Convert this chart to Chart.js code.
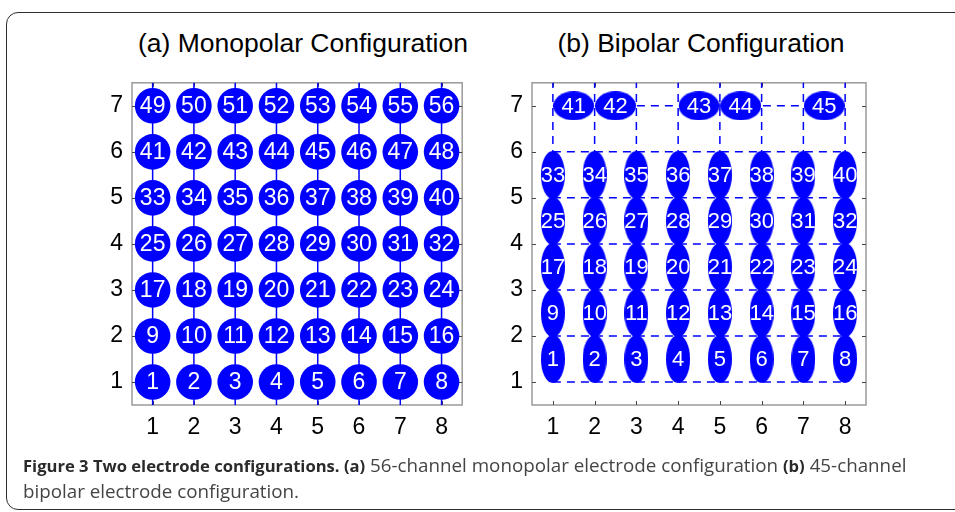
<!DOCTYPE html>
<html>
<head>
<meta charset="utf-8">
<script src="https://cdn.jsdelivr.net/npm/chart.js@4/dist/chart.umd.min.js"></script>
<style>
  body { margin: 0; background: #fff; width: 955px; height: 512px; overflow: hidden; position: relative; font-family: "Liberation Sans", Arial, sans-serif; }
  #frame { position: absolute; left: 6px; top: 12px; width: 1000px; height: 496px; border: 1.5px solid #2e2e2e; border-radius: 12px; }
  .title { position: absolute; top: 28px; width: 400px; font-size: 26.5px; line-height: 30px; text-align: center; color: #000; }
  .box { position: absolute; top: 60px; width: 400px; height: 400px; }
  #caption { position: absolute; left: 23px; top: 453px; width: 930px; font-family: "Open Sans", sans-serif; font-size: 18.8px; line-height: 24.5px; color: #444; white-space: nowrap; }
  #caption b { color: #2a2a2a; font-size: 16.6px; }
</style>
</head>
<body>
<div id="frame"></div>
<div class="title" style="left:103px">(a) Monopolar Configuration</div>
<div class="title" style="left:501px">(b) Bipolar Configuration</div>
<div class="box" style="left:80px"><canvas id="mono" width="400" height="400"></canvas></div>
<div class="box" style="left:480px"><canvas id="bip" width="400" height="400"></canvas></div>
<div id="caption"><b>Figure 3 Two electrode configurations. (a)</b> 56-channel monopolar electrode configuration <b>(b)</b> 45-channel<br>bipolar electrode configuration.</div>

<script>
// axis ticks
const xTicks = [1, 2, 3, 4, 5, 6, 7, 8];
const yTicks = [1, 2, 3, 4, 5, 6, 7];

// (a) monopolar: channel numbers, one row per y value (bottom to top)
const monoCols = [1, 2, 3, 4, 5, 6, 7, 8];
const monoRowY = [1, 2, 3, 4, 5, 6, 7];
const monoChannels = [
    [1, 2, 3, 4, 5, 6, 7, 8],
    [9, 10, 11, 12, 13, 14, 15, 16],
    [17, 18, 19, 20, 21, 22, 23, 24],
    [25, 26, 27, 28, 29, 30, 31, 32],
    [33, 34, 35, 36, 37, 38, 39, 40],
    [41, 42, 43, 44, 45, 46, 47, 48],
    [49, 50, 51, 52, 53, 54, 55, 56]
];

// (b) bipolar: vertical pairs between rows
const bipCols = [1, 2, 3, 4, 5, 6, 7, 8];
const bipRowY = [1.5, 2.5, 3.5, 4.5, 5.5];
const bipChannels = [
    [1, 2, 3, 4, 5, 6, 7, 8],
    [9, 10, 11, 12, 13, 14, 15, 16],
    [17, 18, 19, 20, 21, 22, 23, 24],
    [25, 26, 27, 28, 29, 30, 31, 32],
    [33, 34, 35, 36, 37, 38, 39, 40]
];
// (b) bipolar: horizontal pairs on the top row
const bipTopX = [1.5, 2.5, 4.5, 5.5, 7.5];
const bipTopY = 7;
const bipTopChannels = [41, 42, 43, 44, 45];

// (b) dashed wiring lines
const bipHLineY = [1, 2, 3, 4, 5, 6, 7];
const bipHLineX = [1, 8];
const bipVLineX = [1, 2, 3, 4, 5, 6, 7, 8];
const bipVLineY = [1, 7.5];

const BLUE = '#0000ff';

function ellipseImage(w, h) {
    const c = document.createElement('canvas');
    c.width = w;
    c.height = h;
    const g = c.getContext('2d');
    g.fillStyle = BLUE;
    g.beginPath();
    g.ellipse(w / 2, h / 2, w / 2, h / 2, 0, 0, Math.PI * 2);
    g.fill();
    return c;
}

const boxPlugin = {
    id: 'box',
    beforeDatasetsDraw(chart) {
        const a = chart.chartArea;
        const ctx = chart.ctx;
        ctx.save();
        ctx.strokeStyle = '#9a9a9a';
        ctx.lineWidth = 1.5;
        ctx.strokeRect(a.left, a.top, a.right - a.left, a.bottom - a.top);
        ctx.strokeStyle = '#444';
        ctx.lineWidth = 1;
        ctx.beginPath();
        chart.scales.x.ticks.forEach(t => {
            const px = Math.round(chart.scales.x.getPixelForValue(t.value)) + 0.5;
            ctx.moveTo(px, a.bottom); ctx.lineTo(px, a.bottom - 4);
            ctx.moveTo(px, a.top); ctx.lineTo(px, a.top + 4);
        });
        chart.scales.y.ticks.forEach(t => {
            const py = Math.round(chart.scales.y.getPixelForValue(t.value)) + 0.5;
            ctx.moveTo(a.left, py); ctx.lineTo(a.left + 4, py);
            ctx.moveTo(a.right, py); ctx.lineTo(a.right - 4, py);
        });
        ctx.stroke();
        ctx.restore();
    }
};

const labelPlugin = {
    id: 'pointLabels',
    afterDatasetsDraw(chart, args, opts) {
        const ctx = chart.ctx;
        ctx.save();
        ctx.fillStyle = '#fff';
        ctx.font = opts.size + 'px "Liberation Sans", Arial, sans-serif';
        ctx.textAlign = 'center';
        ctx.textBaseline = 'middle';
        chart.data.datasets.forEach((ds, i) => {
            if (!ds.labels) return;
            chart.getDatasetMeta(i).data.forEach((pt, j) => {
                ctx.fillText(String(ds.labels[j]), pt.x, pt.y + 1);
            });
        });
        ctx.restore();
    }
};

function baseOptions(padRight, labelSize) {
    return {
        responsive: false,
        animation: false,
        devicePixelRatio: 1,
        layout: { padding: { left: 0, right: padRight, top: 14, bottom: 10 } },
        plugins: {
            legend: { display: false },
            tooltip: { enabled: false },
            pointLabels: { size: labelSize }
        },
        scales: {
            x: {
                type: 'linear',
                min: 0.5,
                max: 8.5,
                afterBuildTicks: s => { s.ticks = xTicks.map(v => ({ value: v })); },
                afterFit: s => { s.height = 45; },
                grid: { display: false, drawTicks: false },
                border: { display: false },
                ticks: { color: '#000', padding: 9, font: { family: 'Liberation Sans', size: 23 } }
            },
            y: {
                type: 'linear',
                min: 0.5,
                max: 7.5,
                afterBuildTicks: s => { s.ticks = yTicks.map(v => ({ value: v })); },
                afterFit: s => { s.width = 52; },
                grid: { display: false, drawTicks: false },
                border: { display: false },
                ticks: { color: '#000', padding: 9, font: { family: 'Liberation Sans', size: 23 } }
            }
        }
    };
}

// ---- (a) monopolar ----
const monoPoints = [];
const monoLabels = [];
monoRowY.forEach((y, r) => {
    monoCols.forEach((x, c) => {
        monoPoints.push({ x: x, y: y });
        monoLabels.push(monoChannels[r][c]);
    });
});

const monoDatasets = [{
    type: 'scatter',
    data: monoPoints,
    labels: monoLabels,
    pointStyle: 'circle',
    pointRadius: 17.8,
    pointBackgroundColor: BLUE,
    pointBorderWidth: 0,
    order: 1
}];
monoCols.forEach(x => {
    monoDatasets.push({
        type: 'scatter',
        data: [{ x: x, y: 0.5 }, { x: x, y: 7.5 }],
        showLine: true,
        borderColor: BLUE,
        borderWidth: 1.5,
        pointRadius: 0,
        order: 2
    });
});

new Chart(document.getElementById('mono'), {
    type: 'scatter',
    data: { datasets: monoDatasets },
    options: baseOptions(13, 23),
    plugins: [boxPlugin, labelPlugin]
});

// ---- (b) bipolar ----
const bipPoints = [];
const bipLabels = [];
bipRowY.forEach((y, r) => {
    bipCols.forEach((x, c) => {
        bipPoints.push({ x: x, y: y });
        bipLabels.push(bipChannels[r][c]);
    });
});
const topPoints = bipTopX.map(x => ({ x: x, y: bipTopY }));

const bipDatasets = [{
    type: 'scatter',
    data: bipPoints,
    labels: bipLabels,
    pointStyle: ellipseImage(24, 48),
    pointRadius: 10,
    order: 1
}, {
    type: 'scatter',
    data: topPoints,
    labels: bipTopChannels,
    pointStyle: ellipseImage(41, 29),
    pointRadius: 10,
    order: 1
}];
bipHLineY.forEach(y => {
    bipDatasets.push({
        type: 'scatter',
        data: bipHLineX.map(x => ({ x: x, y: y })),
        showLine: true,
        borderColor: BLUE,
        borderWidth: 1.5,
        borderDash: [8, 6],
        pointRadius: 0,
        order: 2
    });
});
bipVLineX.forEach(x => {
    bipDatasets.push({
        type: 'scatter',
        data: bipVLineY.map(y => ({ x: x, y: y })),
        showLine: true,
        borderColor: BLUE,
        borderWidth: 1.5,
        borderDash: [8, 6],
        pointRadius: 0,
        order: 2
    });
});

new Chart(document.getElementById('bip'), {
    type: 'scatter',
    data: { datasets: bipDatasets },
    options: baseOptions(14, 22),
    plugins: [boxPlugin, labelPlugin]
});
</script>
</body>
</html>
